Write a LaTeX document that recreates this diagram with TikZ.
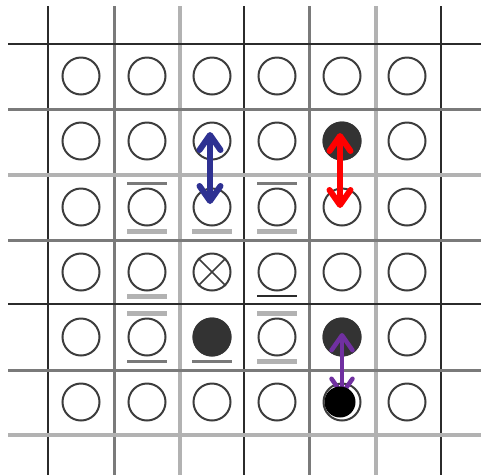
\documentclass[tikz,border=0pt]{standalone}
\usetikzlibrary{arrows.meta}

\definecolor{lineDark}{HTML}{2B2B2B}
\definecolor{lineMid}{HTML}{7A7A7A}
\definecolor{lineLight}{HTML}{B2B2B2}
\definecolor{siteGrey}{HTML}{3C3C3C}
\definecolor{occDark}{HTML}{333333}
\definecolor{moveBlue}{HTML}{2E3192}
\definecolor{moveRed}{HTML}{FF0000}
\definecolor{movePurple}{HTML}{7030A0}

\tikzset{
  gdark/.style={draw=lineDark, line width=2.5pt},
  gmid/.style={draw=lineMid, line width=3pt},
  glight/.style={draw=lineLight, line width=4.5pt},
  site/.style={circle, draw=siteGrey, line width=2pt, minimum size=37pt, inner sep=0pt},
  occupied/.style={site, draw=occDark, fill=occDark},
  blackdot/.style={circle, fill=black, minimum size=31pt, inner sep=0pt},
  barlight/.style={draw=lineLight, line width=5pt},
  barmid/.style={draw=lineMid, line width=3pt},
  bardark/.style={draw=lineDark, line width=2.5pt},
  hop/.style={{Straight Barb[length=15pt,width=21pt,round]}-{Straight Barb[length=15pt,width=21pt,round]},
    line width=6pt, line cap=round},
}

\newcommand\barabove[2]{\draw[#1] ([shift={(-20,-24)}]#2.center) -- ++(40,0);}
\newcommand\barbelow[2]{\draw[#1] ([shift={(-20,24)}]#2.center) -- ++(40,0);}

\begin{document}
\begin{tikzpicture}[x=1pt, y=-1pt]
\useasboundingbox (0,0) rectangle (481,475);

% grid
\foreach \x/\s in {48/gdark,114/gmid,180/glight,244/gdark,309/gmid,376/glight,441/gdark}
  \draw[\s] (\x,6) -- (\x,475);
\foreach \y/\s in {44/gdark,109/gmid,175/glight,240/gmid,304/gdark,370/gmid,435/glight}
  \draw[\s] (8,\y) -- (481,\y);

% lattice sites
\foreach \r/\y in {1/76,2/141,3/207,4/272,5/337,6/402}
  \foreach \c/\x in {1/81,2/147,3/212,4/277,5/342,6/407}
    \node[site, fill=white] (s\r\c) at (\x,\y) {};

% occupied sites
\node[occupied] (o25) at (s25) {};
\node[occupied] (o53) at (s53) {};
\node[occupied] (o55) at (s55) {};

% crossed site
\draw[siteGrey, line width=1.6pt] (s43.north east) -- (s43.south west)
  (s43.north west) -- (s43.south east);

% bars
\barabove{barmid}{s32}   \barbelow{barlight}{s32}
\barbelow{barlight}{s33}
\barabove{barmid}{s34}   \barbelow{barlight}{s34}
\barbelow{barlight}{s42}
\barbelow{bardark}{s44}
\barabove{barlight}{s52} \barbelow{barmid}{s52}
\barbelow{barmid}{s53}
\barabove{barlight}{s54} \barbelow{barlight}{s54}

% hops
\draw[hop, moveBlue] ([xshift=-2pt,yshift=9pt]s23.center) -- ([xshift=-2pt,yshift=3pt]s33.center);
\draw[hop, moveRed] ([xshift=-2pt,yshift=8pt]s25.center) -- ([xshift=-2pt,yshift=-1pt]s35.center);
\draw[hop, movePurple, line width=4.5pt] ([yshift=4pt]o55.center) -- ([yshift=6pt]s65.center);

% particle
\node[blackdot] (p65) at ([xshift=-2pt]s65.center) {};
\end{tikzpicture}
\end{document}
